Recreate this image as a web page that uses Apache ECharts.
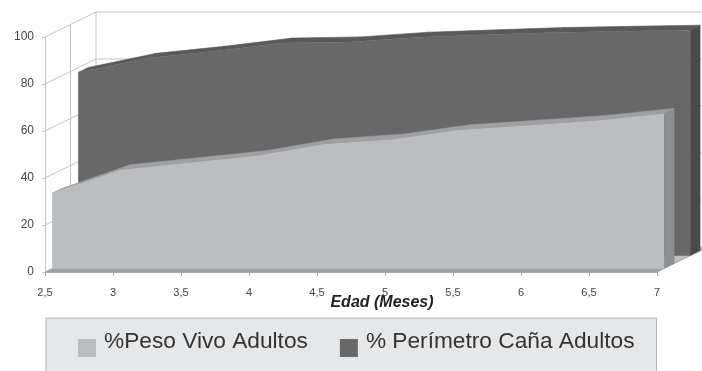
<!DOCTYPE html>
<html>
<head>
<meta charset="utf-8">
<script src="https://cdn.jsdelivr.net/npm/echarts@6/dist/echarts.min.js"></script>
<style>
  html, body { margin: 0; padding: 0; background: #fff; }
  #chart { width: 702px; height: 371px; }
</style>
</head>
<body>
<div id="chart"></div>
<script>
// Age in months (positions along the x axis)
const edad = [2.5, 3, 3.5, 4, 4.5, 5, 5.5, 6, 6.5, 7];
// Percentage of adult live weight
const pesoVivo = [32, 42, 45, 48, 53, 55, 59, 61, 63, 66];
// Percentage of adult cannon-bone perimeter
const perimetroCana = [78, 84, 87, 90.5, 91, 93, 94, 95, 95.5, 96];
// Value-axis ticks
const yTicks = [0, 20, 40, 60, 80, 100];
const seriesNames = ['%Peso Vivo Adultos', '% Perímetro Caña Adultos'];

// Pixel vector from the front plane to the back wall (oblique depth)
const DEPTH = [51, -25];
function shift(p, f) { return [p[0] + DEPTH[0] * f, p[1] + DEPTH[1] * f]; }

// Consecutive point pairs, one per area segment
function segments(xs, ys) {
  const out = [];
  for (let i = 0; i < xs.length - 1; i++) out.push([xs[i], ys[i], xs[i + 1], ys[i + 1]]);
  return out;
}

// Side wall, back wall and floor of the 3D box
function renderWalls(params, api) {
  const ch = [];
  const gridLine = (a, b) => ({
    type: 'line', shape: { x1: a[0], y1: a[1], x2: b[0], y2: b[1] },
    style: { stroke: '#c4c4c4', lineWidth: 1 }
  });
  const xa = edad[0], xb = edad[edad.length - 1], top = yTicks[yTicks.length - 1];
  const f0 = api.coord([xa, 0]), f1 = api.coord([xb, 0]);
  ch.push({ type: 'polygon', shape: { points: [f0, f1, shift(f1, 1), shift(f0, 1)] },
            style: { fill: '#bdbec0', stroke: '#a9a9a9', lineWidth: 1 } });
  ch.push({ type: 'polygon', shape: { points: [f0, f1, shift(f1, 0.14), shift(f0, 0.14)] },
            style: { fill: '#9d9ea0' } });
  yTicks.forEach(v => {
    const a = api.coord([xa, v]), b = api.coord([xb, v]);
    ch.push(gridLine(a, shift(a, 1)));
    ch.push(gridLine(shift(a, 1), shift(b, 1)));
  });
  [0.5, 1].forEach(f => ch.push(gridLine(shift(api.coord([xa, 0]), f), shift(api.coord([xa, top]), f))));
  return { type: 'group', children: ch };
}

// 3D area: each segment draws its top surface; the last one also draws
// the whole front face and the right side so they sit above the tops
function makeArea(segs, d0, d1, colors) {
  return function (params, api) {
    const xA = api.value(0), yA = api.value(1), xB = api.value(2), yB = api.value(3);
    const pA = api.coord([xA, yA]), pB = api.coord([xB, yB]);
    const ch = [];
    ch.push({ type: 'polygon',
      shape: { points: [shift(pA, d0), shift(pB, d0), shift(pB, d1), shift(pA, d1)] },
      style: { fill: colors.top, stroke: colors.top, lineWidth: 0.6 } });
    if (params.dataIndex === segs.length - 1) {
      const pts = [shift(api.coord([segs[0][0], segs[0][1]]), d0)];
      segs.forEach(s => pts.push(shift(api.coord([s[2], s[3]]), d0)));
      const bB = api.coord([xB, 0]), bA0 = api.coord([segs[0][0], 0]);
      pts.push(shift(bB, d0), shift(bA0, d0));
      ch.push({ type: 'polygon', shape: { points: pts }, style: { fill: colors.face } });
      ch.push({ type: 'polygon',
        shape: { points: [shift(pB, d0), shift(pB, d1), shift(bB, d1), shift(bB, d0)] },
        style: { fill: colors.side } });
    }
    return { type: 'group', children: ch };
  };
}

const lightColors = { face: '#bcbdbf', top: '#9fa0a2', side: '#8d8e90' };
const darkColors = { face: '#686868', top: '#595959', side: '#4a4a4a' };
const pesoSeg = segments(edad, pesoVivo);
const caniaSeg = segments(edad, perimetroCana);

const chart = echarts.init(document.getElementById('chart'), null, { renderer: 'canvas' });
chart.setOption({
  animation: false,
  textStyle: { fontFamily: 'Liberation Sans, Arial, sans-serif' },
  grid: { left: 45, right: 45, top: 37, bottom: 99, containLabel: false },
  xAxis: {
    type: 'value', min: 2.5, max: 7, interval: 0.5,
    axisLine: { show: true, lineStyle: { color: '#a6a6a6', width: 1 } },
    axisTick: { show: true, length: 4, lineStyle: { color: '#a6a6a6' } },
    axisLabel: { fontSize: 11, color: '#444', margin: 15,
                 formatter: v => String(v).replace('.', ',') },
    splitLine: { show: false },
    name: 'Edad (Meses)', nameLocation: 'middle', nameGap: 23, nameMoveOverlap: false,
    nameTextStyle: { fontSize: 16, fontWeight: 'bold', fontStyle: 'italic', color: '#222',
                     padding: [0, 0, 0, 62] }
  },
  yAxis: {
    type: 'value', min: 0, max: 100, interval: 20,
    axisLine: { show: true, lineStyle: { color: '#c4c4c4', width: 1 } },
    axisTick: { show: true, length: 3, lineStyle: { color: '#c4c4c4' } },
    axisLabel: { fontSize: 12, color: '#444', margin: 11 },
    splitLine: { show: false }
  },
  legend: {
    data: seriesNames,
    left: 46, top: 318,
    itemWidth: 18, itemHeight: 18, itemGap: 32,
    padding: [12, 22, 40, 32],
    backgroundColor: '#e6e7e8', borderColor: '#b3b3b3', borderWidth: 1,
    icon: 'rect',
    formatter: name => '{t|' + name + '}',
    textStyle: { fontSize: 22.7, color: '#333',
                 rich: { t: { fontSize: 22.7, color: '#333', padding: [0, 0, 13, 3] } } }
  },
  series: [
    { type: 'custom', name: 'walls', data: [[2.5, 0]], renderItem: renderWalls,
      silent: true, clip: false, z: 1 },
    { type: 'custom', name: seriesNames[1], data: caniaSeg, encode: { x: [0, 2], y: [1, 3] },
      renderItem: makeArea(caniaSeg, 0.65, 0.85, darkColors),
      itemStyle: { color: darkColors.face }, clip: false, z: 2 },
    { type: 'custom', name: seriesNames[0], data: pesoSeg, encode: { x: [0, 2], y: [1, 3] },
      renderItem: makeArea(pesoSeg, 0.14, 0.34, lightColors),
      itemStyle: { color: lightColors.face }, clip: false, z: 3 }
  ]
});
</script>
</body>
</html>
